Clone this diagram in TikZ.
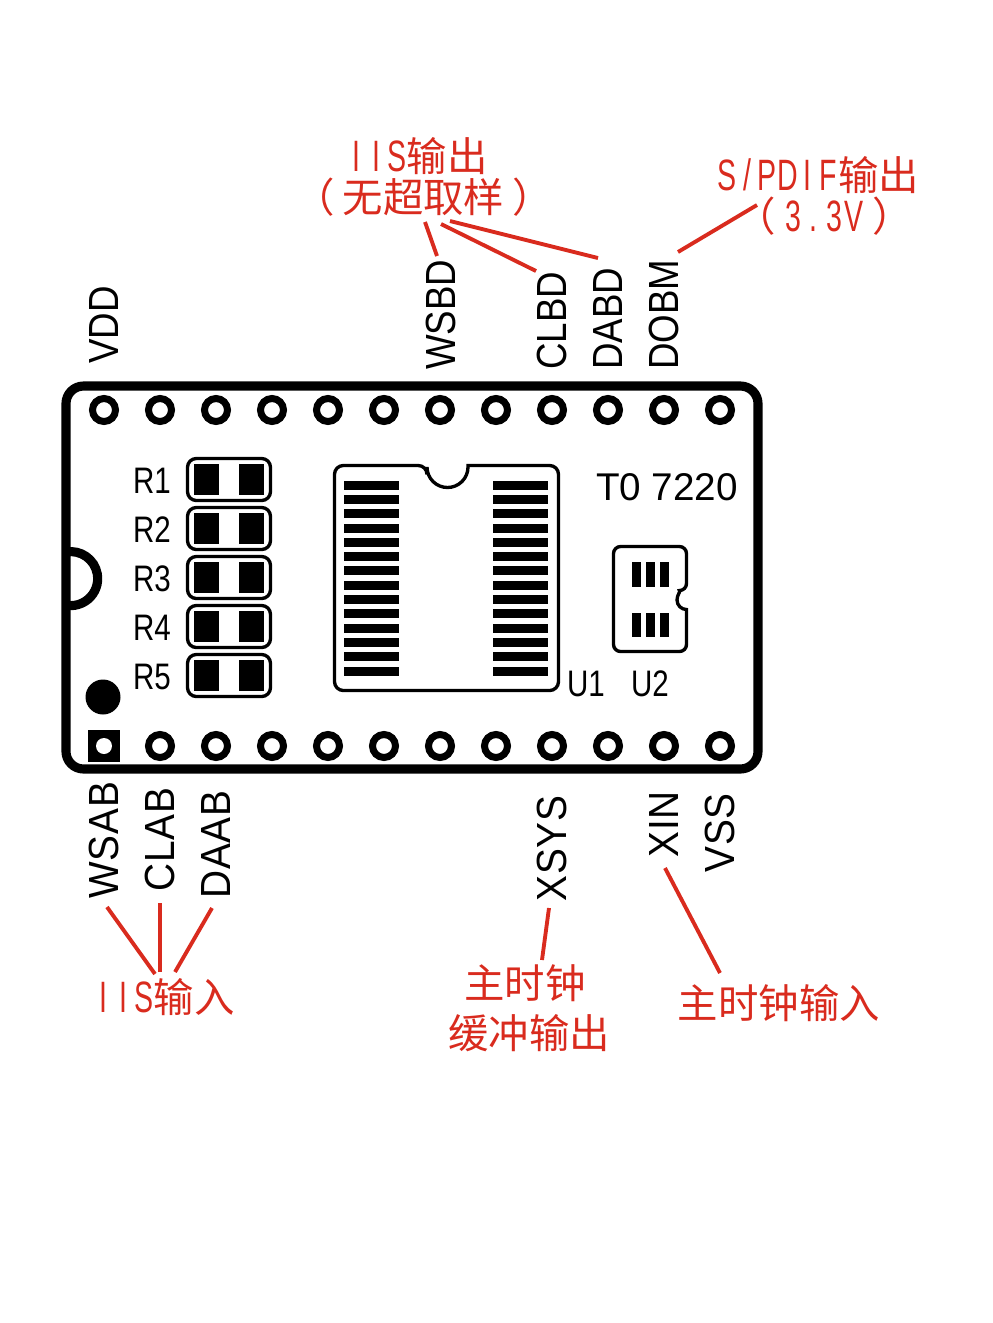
\documentclass[tikz,border=0pt]{standalone}
\usepackage{fontspec}
\setmainfont{Liberation Sans}
\newfontfamily\boardfont[FakeStretch=0.8]{Liberation Sans}
\newfontfamily\topfont[FakeStretch=0.87]{Liberation Sans}
\newfontfamily\botfont[FakeStretch=0.92,LetterSpace=2]{Liberation Sans}
\newfontfamily\halffont[FakeStretch=0.65]{Liberation Sans}
\newfontfamily\notefont{Noto Sans CJK SC}
\definecolor{notered}{HTML}{D92B1E}
\newcommand{\hc}[1]{\makebox[0.5em]{\fontsize{25}{25}\halffont #1}}
\newcommand{\lp}{\makebox[0.7em][r]{（\kern0.2em}}
\newcommand{\rp}{\makebox[0.7em][l]{\kern0.2em）}}
\usetikzlibrary{calc}
\tikzset{
  outline/.style={draw=black, line width=1.9pt, rounded corners=5pt},
  pinring/.style={draw=black, line width=4pt, fill=white, circle, minimum size=23*0.569pt, inner sep=0pt},
  pinlabel/.style={rotate=90, anchor=west, inner sep=0pt, font=\topfont\fontsize{24}{24}\selectfont},
  lowlabel/.style={pinlabel, font=\botfont\fontsize{24}{24}\selectfont},
  partlabel/.style={inner sep=0pt, font=\boardfont\fontsize{21}{21}\selectfont},
  note/.style={inner sep=0pt, align=center, text=notered, font=\notefont\fontsize{23}{23}\selectfont},
  noteline/.style={draw=notered, line width=2.2pt}
}
\begin{document}
\begin{tikzpicture}[x=0.02cm, y=-0.02cm]
  \useasboundingbox (0, 0) rectangle (992, 1323);

  % --- Board outline ---
  \draw[line width=5.2pt, rounded corners=10pt] (66, 386) rectangle (758, 769);
  \draw[line width=5.2pt] (66, 552) arc[start angle=-100, end angle=100, radius=27];

  % --- Pins ---
  \foreach \i in {0,...,11} {
    \node[pinring] (top\i) at (104+56*\i, 410) {};
    \ifnum\i>0
      \node[pinring] (bot\i) at (104+56*\i, 746) {};
    \fi
  }
  \fill (88, 730) rectangle (120, 762);
  \node[circle, fill=white, minimum size=16*0.569pt, inner sep=0pt] (bot0) at (104, 746) {};
  \fill (103, 697) circle (17.5);

  % --- Resistors ---
  \foreach \n/\ypos in {1/479.5, 2/528.5, 3/577.5, 4/626.5, 5/675.5} {
    \draw[outline] (187.5, \ypos-21) rectangle (270.5, \ypos+21);
    \fill (194, \ypos-15.5) rectangle (219, \ypos+15.5);
    \fill (239, \ypos-15.5) rectangle (264, \ypos+15.5);
    \node[partlabel] (R\n) at (152, \ypos+1.5) {R\n};
  }

  % --- U1 ---
  \draw[outline] (334.5, 465.5) -- (427, 465.5) [sharp corners]
    -- (427, 467) arc[start angle=180, end angle=0, radius=20.5]
    -- (468, 465.5) [rounded corners=5pt]
    -- (558.5, 465.5) -- (558.5, 690.5) -- (334.5, 690.5) -- cycle;
  \foreach \n in {0,...,13} {
    \fill (344, 480.5+14.33*\n) rectangle (399, 489.5+14.33*\n);
    \fill (493, 480.5+14.33*\n) rectangle (548, 489.5+14.33*\n);
  }
  \node[partlabel] (U1) at (586, 684) {U1};

  % --- U2 ---
  \draw[outline, rounded corners=4pt] (650, 546.5) -- (686.5, 546.5) -- (686.5, 590.5) [sharp corners]
    arc[start angle=-90, end angle=-270, radius=9.5] [rounded corners=4pt]
    -- (686.5, 651.5) -- (613.5, 651.5) -- (613.5, 546.5) -- cycle;
  \foreach \xpos in {632, 646, 660} {
    \fill (\xpos, 562) rectangle (\xpos+9, 587);
    \fill (\xpos, 613) rectangle (\xpos+9, 637);
  }
  \node[partlabel] (U2) at (650, 684) {U2};
  \node[partlabel, font=\rmfamily\fontsize{22}{22}\selectfont] (T0) at (667, 487) {T0 7220};

  % --- Pin names ---
  \foreach \name/\xpos/\ypos in {VDD/104/364, WSBD/441/370, CLBD/552/370, DABD/608/370, DOBM/664/370}
    \node[pinlabel] (\name) at (\xpos, \ypos) {\name};
  \foreach \name/\xpos/\ypos in {WSAB/104/899, CLAB/160/892, DAAB/216/899, XSYS/552/902, XIN/664/858, VSS/720/873}
    \node[lowlabel] (\name) at (\xpos, \ypos) {\name};

  % --- Notes ---
  \node[note] (iisout) at (417, 177) {\hc I\hc I\hc S输出\\\hspace*{7.4pt}\lp 无超取样\rp};
  \node[note] (spdif) at (818, 196) {\hc S\hc /\hc P\hc D\hc I\hc F输出\\[0.5pt]\hspace*{6.8pt}\lp\hc 3\hc .\hc 3\hc V\rp};
  \node[note] (iisin) at (164, 997) {\hc I\hc I\hc S输入};
  \node[note] (xsysout) at (529, 1008) {主时钟\hspace*{4.5pt}\\[5.5pt]缓冲输出};
  \node[note] (xinnote) at (779, 1003) {主时钟输入};

  % --- Connectors ---
  \draw[noteline] ($(iisout)+(8, 45)$) -- ($(WSBD.west)+(-4, -114)$);
  \draw[noteline] ($(iisout)+(24, 47)$) -- ($(CLBD.west)+(-16, -99)$);
  \draw[noteline] ($(iisout)+(33, 44)$) -- ($(DABD.west)+(-10, -112)$);
  \draw[noteline] ($(spdif)+(-61, 9)$) -- ($(DOBM.west)+(14, -118)$);
  \draw[noteline] ($(iisin)+(-9, -23)$) -- ($(WSAB.west)+(3, 8)$);
  \draw[noteline] ($(iisin)+(-4, -25)$) -- ($(CLAB.west)+(0, 11)$);
  \draw[noteline] ($(iisin)+(11, -25)$) -- ($(DAAB.west)+(-4, 9)$);
  \draw[noteline] ($(xsysout)+(13, -48)$) -- ($(XSYS.west)+(-3, 6)$);
  \draw[noteline] ($(xinnote)+(-59, -30)$) -- ($(XIN.west)+(1, 10)$);
\end{tikzpicture}
\end{document}
